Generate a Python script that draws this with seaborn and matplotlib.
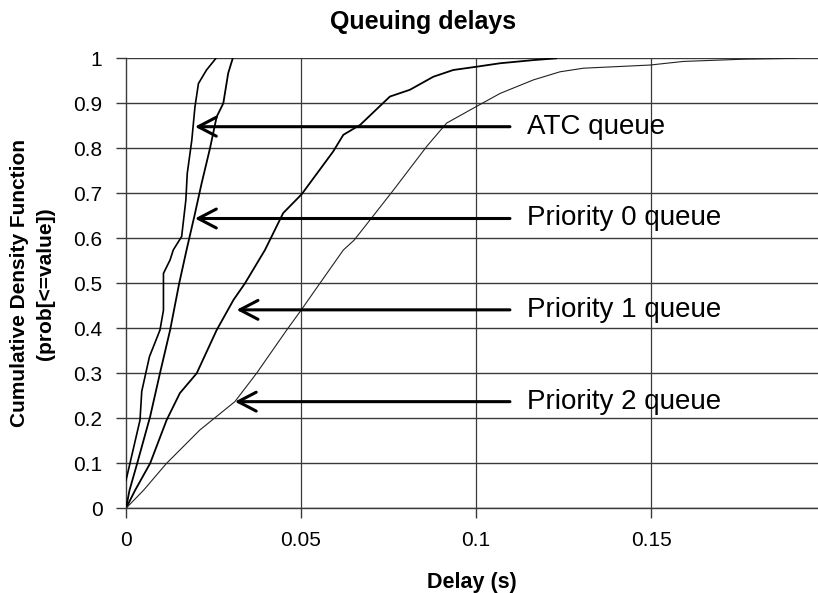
import numpy as np
import pandas as pd
import seaborn as sns
import matplotlib
matplotlib.use("Agg")
import matplotlib.pyplot as plt

# CDF curves (delay in s, cumulative probability)
atc_x = [0, 0.004, 0.0045, 0.0067, 0.0097, 0.0107, 0.0107, 0.0126, 0.0135, 0.0159,
         0.0171, 0.0175, 0.0188, 0.0197, 0.0207, 0.023, 0.0257]
atc_y = [0.062, 0.196, 0.26, 0.337, 0.396, 0.44, 0.522, 0.552, 0.574, 0.604,
         0.685, 0.744, 0.818, 0.892, 0.944, 0.974, 1.0]

p0_x = [0, 0.001, 0.0032, 0.0069, 0.0097, 0.0126, 0.0152, 0.0173, 0.0195, 0.0216,
        0.024, 0.0259, 0.0278, 0.0292, 0.0305]
p0_y = [0, 0.04, 0.1, 0.204, 0.3, 0.396, 0.5, 0.574, 0.648, 0.722,
        0.8, 0.87, 0.9, 0.967, 1.0]

p1_x = [0, 0.0026, 0.0069, 0.0116, 0.0154, 0.0202, 0.0259, 0.0307, 0.034, 0.0397,
        0.0411, 0.0449, 0.0502, 0.0592, 0.0621, 0.0669, 0.0754, 0.0811, 0.0878, 0.0935,
        0.0999, 0.1069, 0.1164, 0.123]
p1_y = [0, 0.04, 0.1, 0.196, 0.256, 0.3, 0.396, 0.463, 0.5, 0.574,
        0.596, 0.656, 0.698, 0.793, 0.83, 0.852, 0.915, 0.93, 0.959, 0.974,
        0.981, 0.989, 0.996, 1.0]

p2_x = [0, 0.005, 0.0116, 0.0211, 0.0311, 0.0373, 0.0459, 0.05, 0.0554, 0.0621,
        0.0652, 0.0764, 0.0859, 0.0916, 0.0999, 0.1069, 0.1164, 0.124, 0.1307, 0.1497,
        0.1592, 0.1764, 0.1916]
p2_y = [0, 0.04, 0.1, 0.174, 0.237, 0.3, 0.396, 0.44, 0.5, 0.574,
        0.596, 0.707, 0.804, 0.856, 0.892, 0.922, 0.952, 0.97, 0.978, 0.985,
        0.993, 0.998, 1.0]

# arrow labels: text, y level, x of arrow head
labels = ["ATC queue", "Priority 0 queue", "Priority 1 queue", "Priority 2 queue"]
label_y = [0.848, 0.644, 0.441, 0.237]
head_x = [0.0197, 0.0197, 0.0316, 0.0311]

xticks = [0, 0.05, 0.1, 0.15]
xtick_labels = ["0", "0.05", "0.1", "0.15"]
yticks = [0, 0.1, 0.2, 0.3, 0.4, 0.5, 0.6, 0.7, 0.8, 0.9, 1.0]
ytick_labels = ["0", "0.1", "0.2", "0.3", "0.4", "0.5", "0.6", "0.7", "0.8", "0.9", "1"]

sns.set_style("white")
plt.rcParams["font.family"] = ["Liberation Sans", "DejaVu Sans"]
plt.rcParams["text.color"] = "black"
plt.rcParams["axes.labelcolor"] = "black"
plt.rcParams["xtick.labelcolor"] = "black"
plt.rcParams["ytick.labelcolor"] = "black"

fig = plt.figure(figsize=(8.18, 5.93), dpi=100)
ax = fig.add_axes([126 / 818, 84.7 / 593, 692 / 818, 450 / 593])

# grid
for yv in yticks:
    ax.axhline(yv, color="#3a3a3a", lw=1.0, zorder=1)
for xv in xticks[1:]:
    ax.axvline(xv, color="#3a3a3a", lw=0.9, zorder=1)

curves = [(atc_x, atc_y, 1.2, "black"),
          (p0_x, p0_y, 1.3, "black"),
          (p1_x, p1_y, 1.3, "black"),
          (p2_x, p2_y, 0.8, "#222222")]
for cx, cy, lw, col in curves:
    sns.lineplot(x=cx, y=cy, ax=ax, color=col, lw=lw, sort=False,
                 estimator=None, zorder=3)

for text, yv, hx in zip(labels, label_y, head_x):
    ax.annotate("", xy=(hx, yv), xytext=(0.1097, yv),
                arrowprops=dict(arrowstyle="->,head_length=0.65,head_width=0.34",
                                lw=2.2, color="black", mutation_scale=20,
                                shrinkA=0, shrinkB=0),
                zorder=4)
    ax.text(0.1146, yv, text, fontsize=20, color="black", ha="left", va="center", zorder=4)

ax.set_xlim(0, 692 / 3500)
ax.set_ylim(0, 1)
ax.set_xticks(xticks)
ax.set_xticklabels(xtick_labels, fontsize=15)
ax.set_yticks(yticks)
ax.set_yticklabels(ytick_labels, fontsize=15)
ax.tick_params(axis="both", direction="out", length=7, width=1, color="#3a3a3a",
               labelcolor="black", pad=10, bottom=True, left=True)
ax.tick_params(axis="x", pad=9)
for side in ["left", "bottom"]:
    ax.spines[side].set_color("#3a3a3a")
    ax.spines[side].set_linewidth(1.0)
ax.spines["top"].set_visible(False)
ax.spines["right"].set_visible(False)

ax.set_xlabel("Delay (s)", fontsize=15.5, fontweight="bold", color="black", labelpad=16)
ax.set_ylabel("Cumulative Density Function\n(prob[<=value])", fontsize=15,
              fontweight="bold", color="black", labelpad=13, linespacing=1.45)
fig.text(423 / 818, 1 - 22 / 593, "Queuing delays", fontsize=18, fontweight="bold",
         color="black", ha="center", va="center")

fig.savefig("out.png", dpi=100)
